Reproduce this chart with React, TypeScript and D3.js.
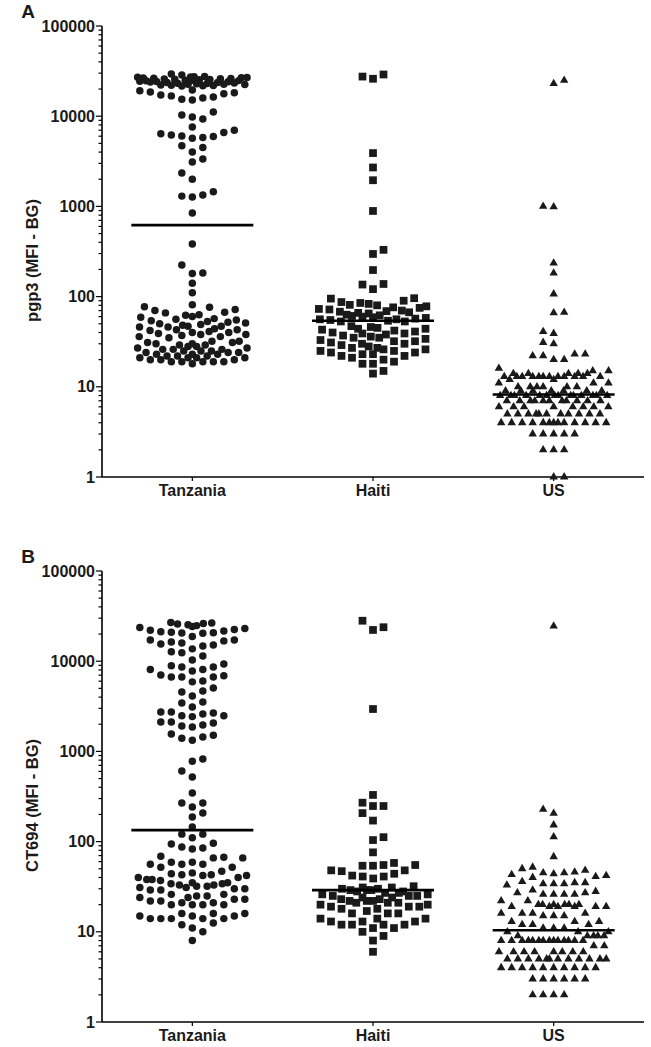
import React from 'react';
import * as d3 from 'd3';

// ---------- data ----------
const categories = ['Tanzania', 'Haiti', 'US'];
const yTickValues = [1, 10, 100, 1000, 10000, 100000];
const panelLetters = ['A', 'B'];
const panelTitles = ['pgp3 (MFI - BG)', 'CT694 (MFI - BG)'];

const pgp3Tanzania = [
  21600, 21700, 21950, 22100, 22150, 22400, 22600, 22650, 22900, 23100, 23150, 23400,
  23650, 23700, 23900, 24150, 24300, 24400, 24650, 24800, 25000, 25100, 25350, 25500,
  25650, 25900, 26000, 26250, 26400, 26500, 26750, 26900, 27000, 27250, 27400, 27500,
  28700, 29300,
  15100, 15400, 15900, 16300, 16800, 17200, 17700, 18200, 18600, 19100, 19500,
  9300, 10300, 11100, 9800, 7600,
  5700, 5800, 5950, 6050, 6200, 6400, 6600, 7000,
  4500, 4000, 4700, 3100, 3350, 2350, 2000,
  1340, 1270, 1300, 1450, 845,
  383, 183, 180, 224, 141, 110, 81,
  59, 60, 62, 63, 66, 67, 70, 72, 76, 77,
  46, 46, 47, 47, 48, 49, 50, 51, 52, 53, 54, 55, 56, 57,
  35, 36, 36, 37, 38, 38, 39, 40, 40, 41, 42, 43, 43, 44,
  27, 27, 28, 28, 29, 29, 30, 30, 31, 31, 32, 32,
  23, 23, 23, 24, 24, 24, 25, 25, 25, 26, 26, 26,
  20, 20, 20, 21, 21, 21, 21, 22, 22, 22,
  19, 19, 19, 19, 19, 18,
];

const pgp3Haiti = [
  29000, 27500, 26000, 3900, 2700, 1950, 890, 330, 297, 197,
  138, 121, 136, 96, 87, 90, 95,
  65, 66, 67, 68, 69, 70, 72, 73, 75, 76, 78, 80, 81, 83, 85,
  53, 53, 54, 55, 56, 56, 57, 58, 59, 60, 61, 62, 63,
  38, 39, 39, 40, 41, 42, 43, 44, 44, 45, 46, 47,
  29, 30, 30, 31, 32, 32, 33, 34, 35, 35, 36, 37,
  24, 25, 25, 26, 26, 27, 27, 28,
  21, 22, 22, 23, 23, 24,
  18, 18, 19, 20, 14, 15,
];

const pgp3US = [
  25000, 23000, 1000, 990, 235, 182, 107, 67, 66, 41, 39, 31, 30,
  23, 23, 22, 22, 20, 20, 16, 15, 15,
  14, 14, 14, 14, 14,
  13, 13, 13, 13, 13, 13, 13, 13, 13, 13, 13, 13,
  12, 12, 11, 11, 11,
  10, 10, 10, 10, 10, 10,
  9, 9, 9, 9, 9, 9, 9,
  8, 8, 8, 8, 8, 8, 8, 8, 8, 8, 8, 8, 8, 8,
  7, 7, 7, 7, 7, 7, 7, 7, 7, 7, 7,
  6, 6, 6, 6, 6, 6, 6, 6,
  5, 5, 5, 5, 5, 5, 5, 5, 5, 5, 5,
  4, 4, 4, 4, 4, 4, 4, 4, 4, 4, 4, 4, 4,
  3, 3, 3, 3, 3, 2, 2, 2, 1, 1,
];

const ct694Tanzania = [
  26900, 26500, 26200, 25800, 25300, 24800, 24200, 23600, 23000, 22500, 22000, 21600,
  21200, 20900, 20700, 20500, 20400,
  18800, 17200, 17200, 16800, 16300, 15900, 15500, 15100,
  14700, 13700, 12700, 12400, 11400,
  10300, 9300, 8900, 8600, 8600, 8100, 8100, 7800,
  7030, 6900, 6700, 6700, 6700, 6030, 5900,
  5050, 4680, 4560, 4110, 3530, 3440,
  3100, 2740, 2740, 2670, 2600, 2490, 2490, 2430,
  2120, 2120, 2060, 1960, 1910, 1860,
  1560, 1510, 1440, 1400, 1330,
  824, 780, 607, 520, 346, 268, 268, 242, 207, 187, 145,
  121, 121, 110, 96, 94, 87, 85, 83, 69, 67,
  66, 66, 59, 59, 56, 56, 56, 52, 52,
  47, 45, 44, 43, 43, 42, 42, 40, 40, 38, 38, 37,
  35, 35, 34, 34, 33, 33, 32, 32, 31, 31, 30, 30, 29, 29,
  26, 26, 25, 25, 24, 24, 23, 23, 22, 22, 21, 21, 20, 20, 20, 20,
  16, 16, 16, 15, 15, 15, 14, 14, 14, 14, 14,
  12.5, 12, 11, 10, 8,
];

const ct694Haiti = [
  28100, 23800, 22200, 2950, 329, 270, 248, 248, 207, 171, 112, 104, 76,
  58, 55, 55, 54, 54,
  48, 48, 47, 44, 42, 41, 41, 39,
  32, 31, 31, 30, 30, 29, 29, 29, 28, 28, 27, 27,
  26, 26, 25, 25, 25, 24, 24, 23, 23, 22, 22, 22, 21, 21, 21,
  20, 20, 19, 19, 19, 18, 18, 17, 16, 16, 16,
  14, 14, 14, 13, 13, 13, 12, 12, 12, 12, 11, 11,
  10, 9, 8, 6,
];

const ct694US = [
  24500, 228, 206, 153, 113, 68, 52, 50, 48,
  46, 45, 45, 44, 43, 42, 41, 40,
  36, 35, 35, 34, 34, 34, 33,
  29, 28, 27, 27, 26, 26, 26, 26,
  22, 22,
  20, 20, 20, 20, 20, 20, 19, 19, 19, 19, 19, 19,
  16, 16, 16, 16, 15, 15, 15,
  13, 13, 13, 12, 12, 12,
  11, 11, 11, 10, 10, 10,
  9, 9, 9, 9, 9,
  8, 8, 8, 8, 8, 8, 8, 8, 8, 8, 8, 8, 8, 8,
  7, 7,
  6, 6, 6, 6, 6, 6, 6, 6,
  5, 5, 5, 5, 5, 5, 5, 5, 5, 5, 5, 5,
  4, 4, 4, 4, 4, 4, 4, 4, 4, 4,
  3, 3, 3, 3, 3, 3,
  2, 2, 2, 2,
];

const pgp3Medians = [620, 54, 8.2];
const ct694Medians = [134, 29, 10.4];

// ---------- layout ----------
const W = 651;
const H = 1047;
const X0 = 102;
const X1 = 644;
const FONT = '"Liberation Sans", Arial, Helvetica, sans-serif';
const INK = '#1a1a1a';

type Pt = { v: number; x: number; y: number };

function swarm(values: number[], y: (v: number) => number, halfW: number, sepX: number, sepY: number): Pt[] {
  const pts: Pt[] = values.map((v) => ({ v, x: 0, y: y(v) }));
  const order = [...pts].sort((a, b) => b.y - a.y);
  const placed: Pt[] = [];
  let toggle = 1;
  for (const p of order) {
    const neigh = placed.filter((q) => Math.abs(q.y - p.y) < sepY);
    let sep = sepX;
    let best: number | null = null;
    while (best === null && sep >= 1.2) {
      const cands = [0];
      for (const q of neigh) cands.push(q.x + sep, q.x - sep);
      let bestAbs = Infinity;
      let ties: number[] = [];
      for (const c of cands) {
        if (Math.abs(c) > halfW + 1e-6) continue;
        if (neigh.some((q) => Math.abs(q.x - c) < sep - 1e-6)) continue;
        const a = Math.abs(c);
        if (a < bestAbs - 1e-6) {
          bestAbs = a;
          ties = [c];
        } else if (Math.abs(a - bestAbs) < 1e-6) ties.push(c);
      }
      if (ties.length) {
        if (ties.length > 1) {
          best = toggle > 0 ? Math.max(...ties) : Math.min(...ties);
          toggle = -toggle;
        } else best = ties[0];
      }
      sep *= 0.8;
    }
    p.x = best ?? 0;
    placed.push(p);
  }
  return pts;
}

const symbolPaths = [
  d3.symbol().type(d3.symbolCircle).size(44)() as string,
  d3.symbol().type(d3.symbolSquare).size(60)() as string,
  d3.symbol().type(d3.symbolTriangle).size(31)() as string,
];

type PanelProps = {
  top: number;
  bottom: number;
  letter: string;
  title: string;
  groups: number[][];
  medians: number[];
};

function Panel({ top, bottom, letter, title, groups, medians }: PanelProps) {
  const y = d3.scaleLog().domain([1, 100000]).range([bottom, top]);
  const x = d3.scalePoint<string>().domain(categories).range([X0, X1]).padding(0.5);
  const minor = y.ticks();
  return (
    <g>
      <text x={28} y={top - 8} textAnchor="middle" fontFamily={FONT} fontWeight="bold" fontSize={19} fill={INK}>
        {letter}
      </text>
      <text
        transform={`translate(38,${(top + bottom) / 2 + 9}) rotate(-90)`}
        textAnchor="middle"
        fontFamily={FONT}
        fontWeight="bold"
        fontSize={16.5}
        fill={INK}
      >
        {title}
      </text>
      {/* y axis */}
      <line x1={X0} x2={X0} y1={top} y2={bottom} stroke="#000" strokeWidth={1.6} />
      {minor.map((t, i) => (
        <line key={'m' + i} x1={X0 - (yTickValues.includes(t) ? 6 : 3.5)} x2={X0} y1={y(t)} y2={y(t)} stroke="#000" strokeWidth={1.2} />
      ))}
      {yTickValues.map((t) => (
        <text key={'t' + t} x={X0 - 7} y={y(t) + 5.5} textAnchor="end" fontFamily={FONT} fontWeight="bold" fontSize={16} fill={INK}>
          {String(t)}
        </text>
      ))}
      {/* x axis */}
      <line x1={X0} x2={X1} y1={bottom} y2={bottom} stroke="#000" strokeWidth={1.6} />
      {categories.map((c) => (
        <g key={c}>
          <line x1={x(c)} x2={x(c)} y1={bottom} y2={bottom + 4} stroke="#000" strokeWidth={1.2} />
          <text x={x(c)} y={bottom + 19} textAnchor="middle" fontFamily={FONT} fontWeight="bold" fontSize={16} fill={INK}>
            {c}
          </text>
        </g>
      ))}
      {/* points */}
      {groups.map((vals, gi) => {
        const cx = x(categories[gi]) as number;
        const pts = swarm(vals, (v) => y(v), 55, 10.5, 9.5);
        return (
          <g key={'g' + gi}>
            {pts.map((p, i) => (
              <path key={i} d={symbolPaths[gi]} transform={`translate(${cx + p.x},${p.y})`} fill={INK} />
            ))}
            <line
              x1={cx - 61}
              x2={cx + 61}
              y1={y(medians[gi])}
              y2={y(medians[gi])}
              stroke="#000"
              strokeWidth={2.6}
            />
          </g>
        );
      })}
    </g>
  );
}

export default function App() {
  return (
    <svg width={W} height={H} style={{ position: 'absolute', left: 0, top: 0, background: '#fff' }}>
      <rect x={0} y={0} width={W} height={H} fill="#fff" />
      <Panel
        top={26}
        bottom={477}
        letter={panelLetters[0]}
        title={panelTitles[0]}
        groups={[pgp3Tanzania, pgp3Haiti, pgp3US]}
        medians={pgp3Medians}
      />
      <Panel
        top={571}
        bottom={1022}
        letter={panelLetters[1]}
        title={panelTitles[1]}
        groups={[ct694Tanzania, ct694Haiti, ct694US]}
        medians={ct694Medians}
      />
    </svg>
  );
}
